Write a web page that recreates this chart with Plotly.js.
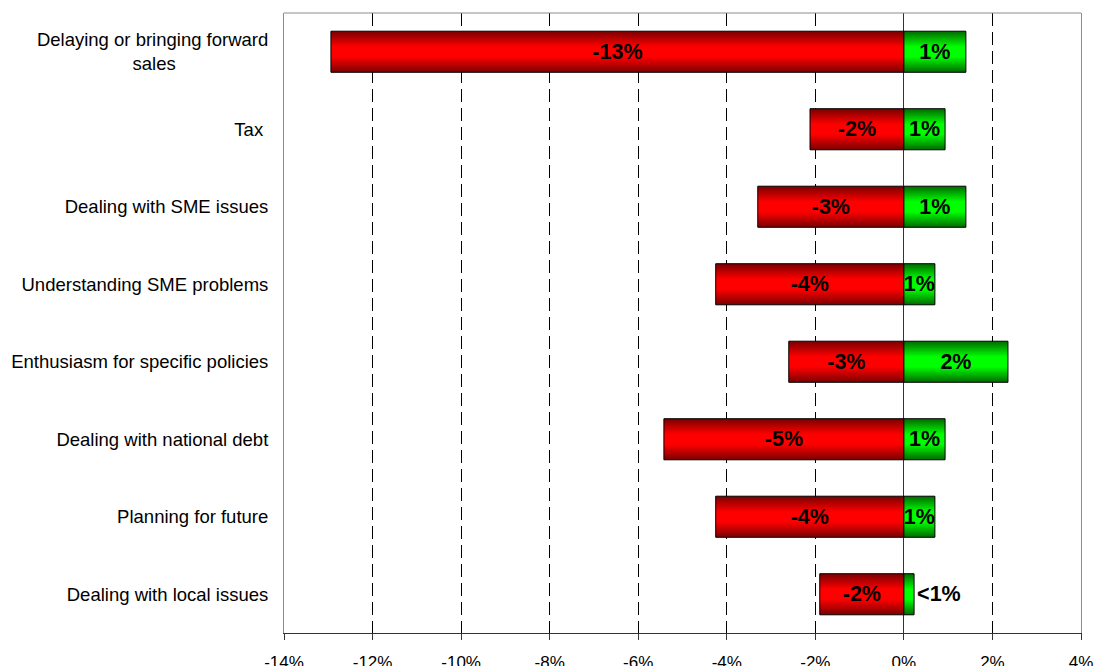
<!DOCTYPE html>
<html>
<head>
<meta charset="utf-8">
<script src="https://cdn.plot.ly/plotly-3.0.1.min.js"></script>
<style>
  html, body { margin: 0; padding: 0; background: #ffffff; }
  #chart { width: 1096px; height: 666px; }
</style>
</head>
<body>
<div id="chart"></div>
<script>
// ---- Data ----
const categories = [
  "Delaying or bringing forward|sales",
  "Tax ",
  "Dealing with SME issues",
  "Understanding SME problems",
  "Enthusiasm for specific policies",
  "Dealing with national debt",
  "Planning for future",
  "Dealing with local issues"
];
const negativeValues = [-12.94, -2.12, -3.30, -4.25, -2.60, -5.42, -4.25, -1.90];
const positiveValues = [1.40, 0.93, 1.40, 0.70, 2.35, 0.93, 0.70, 0.23];
const negativeLabels = ["-13%", "-2%", "-3%", "-4%", "-3%", "-5%", "-4%", "-2%"];
const positiveLabels = ["1%", "1%", "1%", "1%", "2%", "1%", "1%", "<1%"];
const xTickValues = [-14, -12, -10, -8, -6, -4, -2, 0, 2, 4];

// ---- Tick text: wrap and roughly centre second line ----
const NB = "\u00a0";
const tickText = categories.map(c => {
  const parts = c.split("|");
  if (parts.length === 1) return c;
  return parts[0] + "<br>" + parts[1] + NB.repeat(18);
});
const boundaryVals = [];
for (let i = 0; i < categories.length - 1; i++) boundaryVals.push(i + 0.5);

const FONT = "Arial, 'Liberation Sans', sans-serif";
const posTextPositions = positiveValues.map(v => v < 0.4 ? "outside" : "inside");

const traces = [
  {
    type: "bar", orientation: "h",
    x: negativeValues, y: categories,
    text: negativeLabels, textposition: "inside", insidetextanchor: "middle",
    textangle: 0, constraintext: "none",
    textfont: { family: FONT, size: 21.5, color: "#000000", weight: "bold" },
    marker: { color: "#ff0000", line: { color: "#000000", width: 1 } },
    width: 0.53, hoverinfo: "skip", showlegend: false
  },
  {
    type: "bar", orientation: "h",
    x: positiveValues, y: categories,
    text: positiveLabels, textposition: posTextPositions, insidetextanchor: "middle",
    textangle: 0, constraintext: "none", cliponaxis: false,
    textfont: { family: FONT, size: 21.5, color: "#000000", weight: "bold" },
    marker: { color: "#00ff00", line: { color: "#000000", width: 1 } },
    width: 0.53, hoverinfo: "skip", showlegend: false
  }
];

const layout = {
  width: 1096, height: 666,
  margin: { l: 284, r: 15, t: 13, b: 33, pad: 0 },
  paper_bgcolor: "#ffffff", plot_bgcolor: "#ffffff",
  barmode: "relative",
  bargap: 0.47,
  font: { family: FONT, color: "#000000" },
  showlegend: false,
  xaxis: {
    range: [-14, 4],
    tickmode: "array", tickvals: xTickValues,
    ticktext: xTickValues.map(v => v + "%"),
    ticks: "outside", ticklen: 6, tickcolor: "#333333", tickwidth: 1,
    ticklabelstandoff: 8,
    tickfont: { family: FONT, size: 17, color: "#000000" },
    showgrid: true, gridcolor: "#000000", gridwidth: 1, griddash: "13px,6px",
    zeroline: true, zerolinecolor: "#333333", zerolinewidth: 1,
    showline: true, linecolor: "#333333", linewidth: 1,
    fixedrange: true
  },
  yaxis: {
    type: "category",
    categoryorder: "array", categoryarray: categories,
    autorange: "reversed",
    tickmode: "array", tickvals: categories, ticktext: tickText,
    ticks: "", ticklabelstandoff: 11,
    tickfont: { family: FONT, size: 18.5, color: "#000000" },
    showgrid: false, zeroline: false,
    showline: true, linecolor: "#8c8c8c", linewidth: 1, mirror: true,
    fixedrange: true
  },
  yaxis2: {
    overlaying: "y", anchor: "free", position: 14 / 18, side: "left",
    range: [categories.length - 0.5, -0.5],
    tickmode: "array", tickvals: boundaryVals,
    ticks: "outside", ticklen: 6, tickcolor: "#333333", tickwidth: 1,
    showticklabels: false, showgrid: false, zeroline: false, showline: false,
    fixedrange: true
  },
  shapes: [
    { type: "line", xref: "paper", yref: "paper", x0: 0, x1: 1, y0: 1, y1: 1,
      line: { color: "#8c8c8c", width: 1 } }
  ]
};

Plotly.newPlot("chart", traces, layout, { staticPlot: true, displayModeBar: false }).then(gd => {
  // vertical "cylinder" gradients like the original
  const svg = gd.querySelector("svg.main-svg");
  const ns = "http://www.w3.org/2000/svg";
  let defs = svg.querySelector("defs");
  if (!defs) { defs = document.createElementNS(ns, "defs"); svg.insertBefore(defs, svg.firstChild); }
  function addGrad(id, edge, mid) {
    const g = document.createElementNS(ns, "linearGradient");
    g.setAttribute("id", id);
    g.setAttribute("x1", "0"); g.setAttribute("y1", "0");
    g.setAttribute("x2", "0"); g.setAttribute("y2", "1");
    [[0, edge], [0.38, mid], [0.62, mid], [1, edge]].forEach(([o, c]) => {
      const s = document.createElementNS(ns, "stop");
      s.setAttribute("offset", o);
      s.setAttribute("stop-color", c);
      g.appendChild(s);
    });
    defs.appendChild(g);
  }
  addGrad("gradRed", "#7a0000", "#ff0000");
  addGrad("gradGreen", "#006a00", "#00ff00");
  const barTraces = gd.querySelectorAll(".barlayer .trace");
  barTraces.forEach((t, i) => {
    t.querySelectorAll("path").forEach(p => {
      p.style.fill = i === 0 ? "url(#gradRed)" : "url(#gradGreen)";
    });
  });
});
</script>
</body>
</html>
